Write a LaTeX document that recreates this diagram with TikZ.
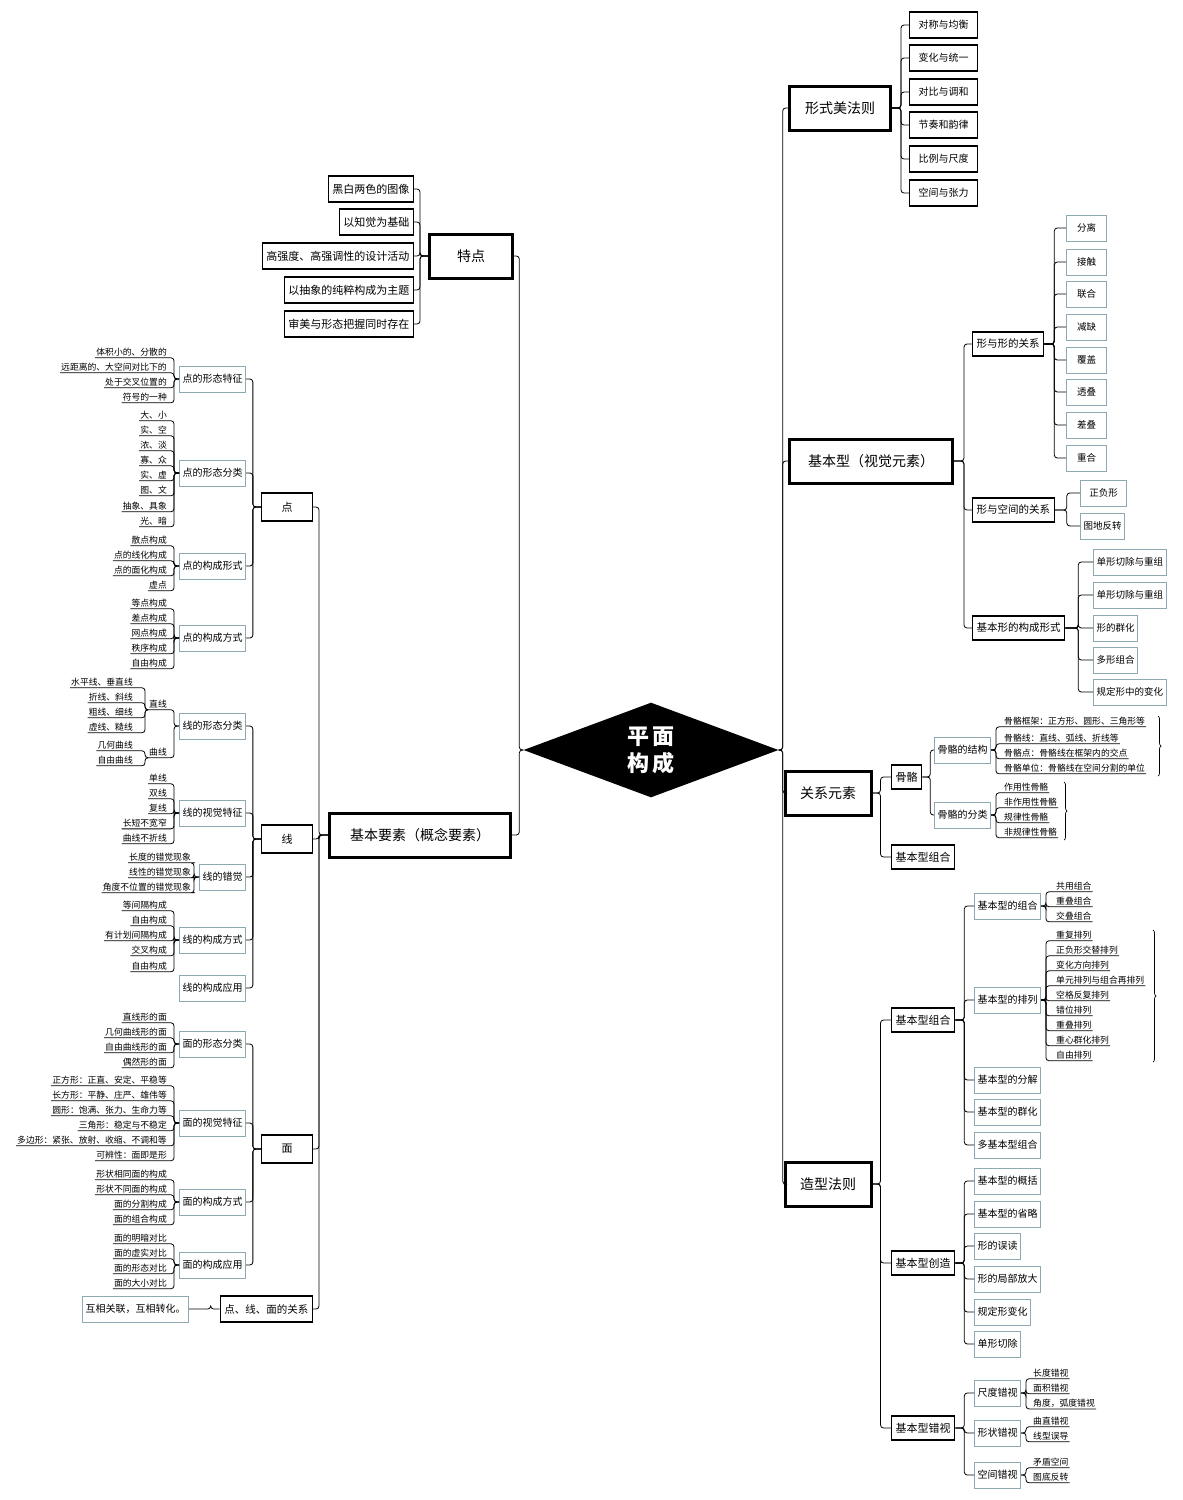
\documentclass[tikz,border=0pt]{standalone}
\usepackage{fontspec}
\setmainfont{Noto Sans CJK SC}
\usetikzlibrary{shapes.geometric,decorations.pathreplacing}
\definecolor{subline}{HTML}{8FA9B2}
\tikzstyle{link}=[draw=black,line width=0.8pt,rounded corners=3pt]
\tikzstyle{big}=[draw=black,line width=3pt,fill=white,minimum height=44pt,font=\fontsize{14}{16}\selectfont,inner xsep=5pt]
\tikzstyle{mid}=[draw=black,line width=1.3pt,fill=white,minimum height=24pt,font=\fontsize{11}{13}\selectfont,inner xsep=4pt]
\tikzstyle{sub}=[draw=subline,line width=1pt,fill=white,minimum height=26pt,font=\fontsize{10}{12}\selectfont,inner xsep=3pt]
\tikzstyle{leaf}=[inner xsep=1pt,inner ysep=1.5pt,font=\fontsize{8.8}{9}\selectfont]
\tikzstyle{brace}=[decorate,decoration={brace,amplitude=3pt},line width=0.7pt]
% leaves to the left / to the right of a parent
\newcommand\leavesL[3]{%
  \foreach \y/\t [count=\i] in {#3} {
    \node[leaf,anchor=east] (#1-\i) at (#2,\y) {\t};
    \draw[link] (#1.west) -- ++(-5,0) |- (#1-\i.south east) -- (#1-\i.south west);
  }}
\newcommand\leavesR[3]{%
  \foreach \y/\t [count=\i] in {#3} {
    \node[leaf,anchor=west] (#1-\i) at (#2,\y) {\t};
    \draw[link] (#1.east) -- ++(5,0) |- (#1-\i.south west) -- (#1-\i.south east);
  }}
\newcommand\kidsL[3]{\foreach \c in {#3} \draw[link] (#1.west) -- ++(-#2,0) |- (\c.east);}
\newcommand\kidsR[3]{\foreach \c in {#3} \draw[link] (#1.east) -- ++(#2,0) |- (\c.west);}

\begin{document}
\begin{tikzpicture}[x=1pt,y=-1pt]
    \useasboundingbox[fill=white] (0,0) rectangle (1183,1500);

    % centre
    \node[diamond,fill=black,minimum width=255pt,minimum height=94pt,inner sep=0pt,
          text=white,font=\fontsize{22}{27}\selectfont\bfseries,align=center] (core) at (651,750) {平\,面\\构\,成};

    % main branches
    \node[big,minimum width=101pt] (mf) at (840,108) {形式美法则};
    \node[big,minimum width=163pt] (jb) at (871,461) {基本型（视觉元素）};
    \node[big,minimum width=86pt] (gx) at (828,793) {关系元素};
    \node[big,minimum width=86pt] (zx) at (828,1184) {造型法则};
    \node[big,minimum width=83pt] (td) at (471,256) {特点};
    \node[big,minimum width=181pt] (ys) at (420,835) {基本要素（概念要素）};
    \kidsR{core}{4}{mf,jb,gx,zx}
    \kidsL{core}{4}{td,ys}

    % form beauty rules
    \foreach \n/\y/\t in {mf1/25/对称与均衡,mf2/58/变化与统一,mf3/92/对比与调和,
                          mf4/125/节奏和韵律,mf5/159/比例与尺度,mf6/193/空间与张力}
        \node[mid,font=\fontsize{10}{11}\selectfont,minimum height=26pt,minimum width=68pt,anchor=west] (\n) at (909,\y) {\t};
    \kidsR{mf}{9}{mf1,mf2,mf3,mf4,mf5,mf6}

    % basic form
    \node[mid,font=\fontsize{10.5}{12}\selectfont,anchor=west] (xx) at (972,344) {形与形的关系};
    \node[mid,font=\fontsize{10.5}{12}\selectfont,anchor=west] (xk) at (972,510) {形与空间的关系};
    \node[mid,font=\fontsize{10.5}{12}\selectfont,anchor=west] (gc) at (972,628) {基本形的构成形式};
    \kidsR{jb}{10}{xx,xk,gc}
    \foreach \n/\y/\t in {xx1/228/分离,xx2/262/接触,xx3/294/联合,xx4/327/减缺,
                          xx5/360/覆盖,xx6/392/透叠,xx7/425/差叠,xx8/458/重合}
        \node[sub,anchor=west,font=\fontsize{9.5}{11}\selectfont,minimum width=40pt] (\n) at (1066,\y) {\t};
    \kidsR{xx}{10}{xx1,xx2,xx3,xx4,xx5,xx6,xx7,xx8}
    \node[sub,anchor=west,font=\fontsize{9.5}{11}\selectfont,minimum width=46pt] (xk1) at (1080,493) {正负形};
    \node[sub,anchor=west,font=\fontsize{9.5}{11}\selectfont] (xk2) at (1080,526) {图地反转};
    \kidsR{xk}{12}{xk1,xk2}
    \foreach \n/\y/\t in {gc1/562/单形切除与重组,gc2/595/单形切除与重组,gc3/628/形的群化,
                          gc4/660/多形组合,gc5/692/规定形中的变化}
        \node[sub,anchor=west,font=\fontsize{9.5}{11}\selectfont] (\n) at (1093,\y) {\t};
    \kidsR{gc}{13}{gc1,gc2,gc3,gc4,gc5}

    % relation elements
    \node[mid,anchor=west] (gg) at (891,777) {骨骼};
    \node[mid,anchor=west] (gz) at (891,857) {基本型组合};
    \kidsR{gx}{8}{gg,gz}
    \node[sub,anchor=west] (gj) at (934,750) {骨骼的结构};
    \node[sub,anchor=west] (gf) at (934,815) {骨骼的分类};
    \kidsR{gg}{8}{gj,gf}
    \leavesR{gj}{1003}{721/骨骼框架：正方形、圆形、三角形等,738/骨骼线：直线、弧线、折线等,
                       753/骨骼点：骨骼线在框架内的交点,768/骨骼单位：骨骼线在空间分割的单位}
    \leavesR{gf}{1003}{787/作用性骨骼,802/非作用性骨骼,817/规律性骨骼,832/非规律性骨骼}
    \draw[brace] (1158,716) -- (1158,776);
    \draw[brace] (1064,782) -- (1064,840);

    % shaping rules
    \node[mid,anchor=west] (zh) at (891,1020) {基本型组合};
    \node[mid,anchor=west] (cz) at (891,1263) {基本型创造};
    \node[mid,anchor=west] (cs) at (891,1428) {基本型错视};
    \kidsR{zx}{8}{zh,cz,cs}
    \foreach \n/\y/\t in {zh1/906/基本型的组合,zh2/1000/基本型的排列,zh3/1080/基本型的分解,
                          zh4/1112/基本型的群化,zh5/1145/多基本型组合}
        \node[sub,anchor=west] (\n) at (974,\y) {\t};
    \kidsR{zh}{9}{zh1,zh2,zh3,zh4,zh5}
    \leavesR{zh1}{1055}{886/共用组合,901/重叠组合,916/交叠组合}
    \leavesR{zh2}{1055}{935/重复排列,950/正负形交替排列,965/变化方向排列,980/单元排列与组合再排列,
                        995/空格反复排列,1010/错位排列,1025/重叠排列,1040/重心群化排列,1055/自由排列}
    \draw[brace] (1153,930) -- (1153,1062);
    \foreach \n/\y/\t in {cz1/1181/基本型的概括,cz2/1214/基本型的省略,cz3/1246/形的误读,
                          cz4/1279/形的局部放大,cz5/1312/规定形变化,cz6/1344/单形切除}
        \node[sub,anchor=west] (\n) at (974,\y) {\t};
    \kidsR{cz}{9}{cz1,cz2,cz3,cz4,cz5,cz6}
    \foreach \n/\y/\t in {cs1/1393/尺度错视,cs2/1433/形状错视,cs3/1475/空间错视}
        \node[sub,anchor=west] (\n) at (974,\y) {\t};
    \kidsR{cs}{9}{cs1,cs2,cs3}
    \leavesR{cs1}{1032}{1373/长度错视,1388/面积错视,1403/角度，弧度错视}
    \leavesR{cs2}{1032}{1421/曲直错视,1436/线型误导}
    \leavesR{cs3}{1032}{1462/矛盾空间,1477/图底反转}

    % features
    \foreach \n/\y/\t in {td1/189/黑白两色的图像,td2/222/以知觉为基础,td3/256/高强度、高强调性的设计活动,
                          td4/290/以抽象的纯粹构成为主题,td5/324/审美与形态把握同时存在}
        \node[mid,anchor=east,minimum height=26pt] (\n) at (414,\y) {\t};
    \kidsL{td}{8}{td1,td2,td3,td4,td5}

    % basic elements
    \node[mid,minimum width=51pt,minimum height=28pt] (dian) at (287,507) {点};
    \node[mid,minimum width=51pt,minimum height=28pt] (xian) at (287,839) {线};
    \node[mid,minimum width=51pt,minimum height=28pt] (mian) at (287,1149) {面};
    \node[mid,anchor=east,font=\fontsize{10.5}{12}\selectfont,minimum height=26pt] (gxr) at (313,1309) {点、线、面的关系};
    \kidsL{ys}{9}{dian,xian,mian,gxr}
    \node[sub,anchor=east] (gxr1) at (189,1309) {互相关联，互相转化。};
    \kidsL{gxr}{9}{gxr1}

    % point
    \foreach \n/\y/\t in {d1/379/点的形态特征,d2/473/点的形态分类,d3/566/点的构成形式,d4/638/点的构成方式}
        \node[sub,anchor=east] (\n) at (246,\y) {\t};
    \kidsL{dian}{8}{d1,d2,d3,d4}
    \leavesL{d1}{168}{352/体积小的、分散的,367/远距离的、大空间对比下的,382/处于交叉位置的,397/符号的一种}
    \leavesL{d2}{168}{415/大、小,430/实、空,445/浓、淡,460/寡、众,475/实、虚,490/图、文,506/抽象、具象,521/光、暗}
    \leavesL{d3}{168}{540/散点构成,555/点的线化构成,570/点的面化构成,585/虚点}
    \leavesL{d4}{168}{603/等点构成,618/差点构成,633/网点构成,648/秩序构成,663/自由构成}

    % line
    \foreach \n/\y/\t in {x1/726/线的形态分类,x2/813/线的视觉特征,x4/940/线的构成方式,x5/988/线的构成应用}
        \node[sub,anchor=east] (\n) at (246,\y) {\t};
    \node[sub,anchor=east] (x3) at (246,877) {线的错觉};
    \kidsL{xian}{8}{x1,x2,x3,x4,x5}
    \leavesL{x1}{168}{704/直线,752/曲线}
    \foreach \y/\t [count=\i] in {682/水平线、垂直线,697/折线、斜线,712/粗线、细线,727/虚线、糙线} {
        \node[leaf,anchor=east] (zl-\i) at (134,\y) {\t};
        \draw[link] (x1-1.south west) -- ++(-3,0) |- (zl-\i.south east) -- (zl-\i.south west);
    }
    \foreach \y/\t [count=\i] in {745/几何曲线,760/自由曲线} {
        \node[leaf,anchor=east] (ql-\i) at (134,\y) {\t};
        \draw[link] (x1-2.south west) -- ++(-3,0) |- (ql-\i.south east) -- (ql-\i.south west);
    }
    \leavesL{x2}{168}{778/单线,793/双线,808/复线,823/长短不宽窄,838/曲线不折线}
    \leavesL{x3}{192}{857/长度的错觉现象,872/线性的错觉现象,887/角度不位置的错觉现象}
    \leavesL{x4}{168}{905/等间隔构成,920/自由构成,935/有计划间隔构成,950/交叉构成,966/自由构成}

    % plane
    \foreach \n/\y/\t in {m1/1044/面的形态分类,m2/1123/面的视觉特征,m3/1202/面的构成方式,m4/1265/面的构成应用}
        \node[sub,anchor=east] (\n) at (246,\y) {\t};
    \kidsL{mian}{8}{m1,m2,m3,m4}
    \leavesL{m1}{168}{1017/直线形的面,1032/几何曲线形的面,1047/自由曲线形的面,1062/偶然形的面}
    \leavesL{m2}{168}{1080/正方形：正直、安定、平稳等,1095/长方形：平静、庄严、雄伟等,1110/圆形：饱满、张力、生命力等,
                      1125/三角形：稳定与不稳定,1140/多边形：紧张、放射、收缩、不调和等,1155/可辨性：面即是形}
    \leavesL{m3}{168}{1174/形状相同面的构成,1189/形状不同面的构成,1204/面的分割构成,1219/面的组合构成}
    \leavesL{m4}{168}{1238/面的明暗对比,1253/面的虚实对比,1268/面的形态对比,1283/面的大小对比}
\end{tikzpicture}
\end{document}
